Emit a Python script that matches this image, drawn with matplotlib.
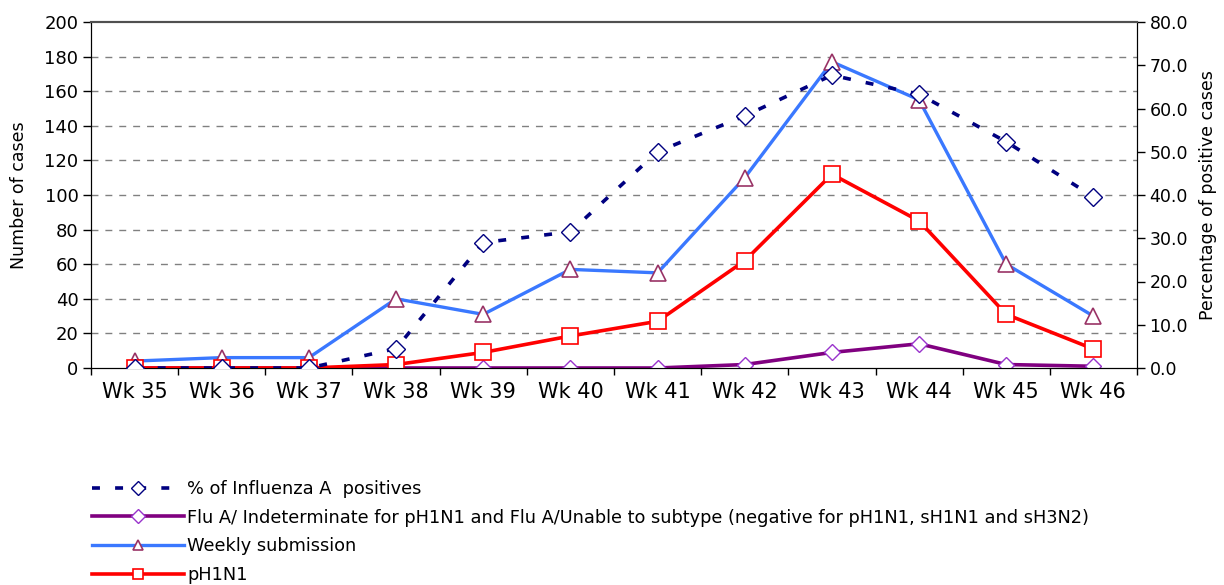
import matplotlib
matplotlib.use("Agg")
import matplotlib.pyplot as plt
from matplotlib.ticker import FixedLocator, NullFormatter

weeks = ["Wk 35", "Wk 36", "Wk 37", "Wk 38", "Wk 39", "Wk 40",
         "Wk 41", "Wk 42", "Wk 43", "Wk 44", "Wk 45", "Wk 46"]
pct_flu_a = [0, 0, 0, 4.5, 29, 31.5, 50, 58.3, 67.7, 63.3, 52.3, 39.6]
flu_a_indet = [0, 0, 0, 0, 0, 0, 0, 2, 9, 14, 2, 1]
weekly_sub = [4, 6, 6, 40, 31, 57, 55, 110, 177, 155, 60, 30]
ph1n1 = [0, 0, 0, 2, 9, 18.5, 27, 62, 112, 85, 31, 11]

labels = ["% of Influenza A  positives",
          "Flu A/ Indeterminate for pH1N1 and Flu A/Unable to subtype (negative for pH1N1, sH1N1 and sH3N2)",
          "Weekly submission",
          "pH1N1"]

plt.rcParams['font.family'] = ['DejaVu Sans']
fig = plt.figure(figsize=(12.24, 5.85), dpi=100)
ax = fig.add_axes([91/1224, 1-368/585, (1137-91)/1224, (368-22)/585])
ax2 = ax.twinx()

x = list(range(len(weeks)))

l2, = ax.plot(x, flu_a_indet, color="#800080", lw=2.6, marker="D", ms=8,
              mfc="white", mec="#9933CC", mew=1.0, zorder=3)
l3, = ax.plot(x, weekly_sub, color="#3A78FF", lw=2.4, marker="^", ms=12,
              mfc="white", mec="#993366", mew=1.2, zorder=4)
l4, = ax.plot(x, ph1n1, color="#FF0000", lw=2.6, marker="s", ms=11,
              mfc="white", mec="#FF0000", mew=1.2, zorder=5)
l1, = ax2.plot(x, pct_flu_a, color="#000080", lw=2.6, linestyle=(0, (2.2, 4.2)),
               marker="D", ms=9, mfc="white", mec="#000080", mew=1.0, zorder=6)

ax.set_xlim(-0.5, len(weeks) - 0.5)
ax.set_ylim(0, 200)
ax2.set_ylim(0, 80)

ax.set_yticks(range(0, 201, 20))
ax.tick_params(axis='y', direction='out', length=6, width=1, labelsize=13, pad=3)
ax.set_xticks(x)
ax.set_xticklabels(weeks, fontsize=15)
ax.tick_params(axis='x', which='major', length=0, pad=10)
ax.xaxis.set_minor_locator(FixedLocator([i - 0.5 for i in range(len(weeks) + 1)]))
ax.xaxis.set_minor_formatter(NullFormatter())
ax.tick_params(axis='x', which='minor', direction='out', length=5, width=1)

ax2.set_yticks(range(0, 81, 10))
ax2.set_yticklabels([f"{v:.1f}" for v in range(0, 81, 10)])
ax2.tick_params(axis='y', direction='out', length=6, width=1, labelsize=12.5, pad=3)

for yv in range(20, 200, 20):
    ax.axhline(yv, color="#808080", lw=1, linestyle=(0, (5, 5)), zorder=1)

for s in ['left', 'bottom']:
    ax.spines[s].set_color('black')
ax.spines['top'].set_color('#505050')
ax2.spines['right'].set_color('black')
ax2.spines['top'].set_color('#505050')
ax.spines['top'].set_linewidth(1.5)
ax2.spines['top'].set_linewidth(1.5)

ax.set_ylabel("Number of cases", fontsize=12.5, labelpad=12)
ax2.set_ylabel("Percentage of positive cases", fontsize=12.5, labelpad=8)

leg = fig.legend([l1, l2, l3, l4], labels, loc='upper left',
                 bbox_to_anchor=(92/1224, 1-480/585), frameon=False,
                 fontsize=12.8, handlelength=5.2, handletextpad=0.15,
                 labelspacing=0.6, borderpad=0, borderaxespad=0)
for h in leg.legend_handles:
    h.set_markersize(7)

fig.savefig("out.png", dpi=100)
